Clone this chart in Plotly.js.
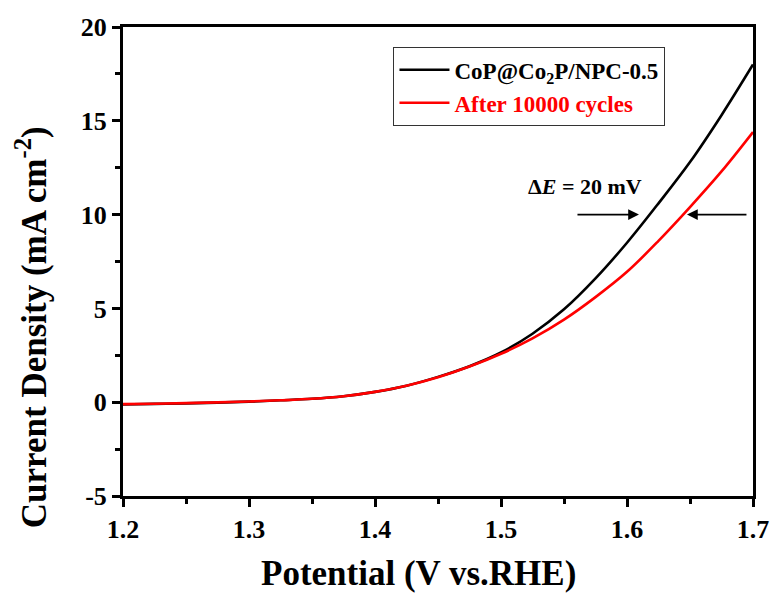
<!DOCTYPE html>
<html><head><meta charset="utf-8">
<script src="https://cdn.plot.ly/plotly-3.0.1.min.js"></script>
<style>html,body{margin:0;padding:0;background:#fff}</style>
</head><body>
<div id="chart" style="width:771px;height:593px"></div>
<script>
const potential = [1.200,1.225,1.250,1.275,1.300,1.325,1.350,1.375,1.400,1.425,1.450,1.475,1.500,1.525,1.550,1.575,1.600,1.625,1.650,1.675,1.700];
const initialCurrent = [-0.12,-0.09,-0.06,-0.02,0.03,0.10,0.18,0.32,0.55,0.88,1.35,1.92,2.65,3.65,4.95,6.6,8.5,10.6,12.8,15.3,18.0];
const afterCurrent = [-0.10,-0.08,-0.05,-0.01,0.04,0.10,0.18,0.32,0.55,0.88,1.33,1.90,2.58,3.40,4.40,5.6,6.95,8.6,10.4,12.3,14.4];
const seriesNames = ['CoP@Co<sub>2</sub>P/NPC-0.5','<span style="color:#ff0000">After 10000 cycles</span>'];
const xTicks = [1.2,1.3,1.4,1.5,1.6,1.7];
const xTickText = ['1.2','1.3','1.4','1.5','1.6','1.7'];
const yTicks = [-5,0,5,10,15,20];
const yTickText = ['-5','0','5','10','15','20'];
const xTitle = 'Potential (V vs.RHE)';
const yTitle = 'Current Density (mA cm<sup>-2</sup>)';
const deltaLabel = 'Δ<i>E</i> = 20 mV';
const arrowLevel = 10;
const arrowBlack = [1.5595, 1.6095];
const arrowRed = [1.696, 1.6476];

const F = 'Liberation Serif, Times New Roman, serif';
const traces = [
  {x: potential, y: initialCurrent, mode:'lines', name: seriesNames[0], line:{color:'#000', width:2.6, shape:'spline'}},
  {x: potential, y: afterCurrent, mode:'lines', name: seriesNames[1], line:{color:'#ff0000', width:2.6, shape:'spline'}}
];
const axisCommon = {
  showline:true, linewidth:3, linecolor:'#000', mirror:true, showgrid:false, zeroline:false,
  ticks:'outside', ticklen:8, tickwidth:3, tickcolor:'#000',
  tickfont:{family:F, size:26, color:'#000', weight:'bold'}
};
const layout = {
  width:771, height:593,
  margin:{l:123, r:18, t:27, b:97},
  paper_bgcolor:'#fff', plot_bgcolor:'#fff',
  showlegend:true,
  legend:{x:0.429, y:0.957, xanchor:'left', yanchor:'top', bordercolor:'#333', borderwidth:1.2,
    font:{family:F, size:23, color:'#000', weight:'bold'}, bgcolor:'#fff', itemwidth:50, tracegroupgap:0},
  xaxis: Object.assign({}, axisCommon, {range:[1.2,1.7], tickvals:xTicks, ticktext:xTickText,
    minor:{ticks:'outside', ticklen:5, tickwidth:3, tickcolor:'#000', dtick:0.05, tick0:1.2}}),
  yaxis: Object.assign({}, axisCommon, {range:[-5,20], tickvals:yTicks, ticktext:yTickText,
    minor:{ticks:'outside', ticklen:5, tickwidth:3, tickcolor:'#000', dtick:2.5, tick0:0}}),
  annotations:[
    {x:0.469, y:-0.166, xref:'paper', yref:'paper', xanchor:'center', yanchor:'middle', text:xTitle, showarrow:false,
     font:{family:F, size:35, color:'#000', weight:'bold'}},
    {x:-0.146, y:0.36, xref:'paper', yref:'paper', xanchor:'center', yanchor:'middle', textangle:-90, text:yTitle, showarrow:false,
     font:{family:F, size:35, color:'#000', weight:'bold'}},
    {x:1.5667, y:11.5, xref:'x', yref:'y', text:deltaLabel, showarrow:false,
     font:{family:F, size:22, color:'#000', weight:'bold'}},
    {x:arrowBlack[1], y:arrowLevel, ax:arrowBlack[0], ay:arrowLevel, xref:'x', yref:'y', axref:'x', ayref:'y',
     text:'', showarrow:true, arrowhead:2, arrowsize:1.2, arrowwidth:1.8, arrowcolor:'#000'},
    {x:arrowRed[1], y:arrowLevel, ax:arrowRed[0], ay:arrowLevel, xref:'x', yref:'y', axref:'x', ayref:'y',
     text:'', showarrow:true, arrowhead:2, arrowsize:1.2, arrowwidth:1.8, arrowcolor:'#000'}
  ]
};
Plotly.newPlot('chart', traces, layout, {displayModeBar:false, staticPlot:true});
</script>
</body></html>
